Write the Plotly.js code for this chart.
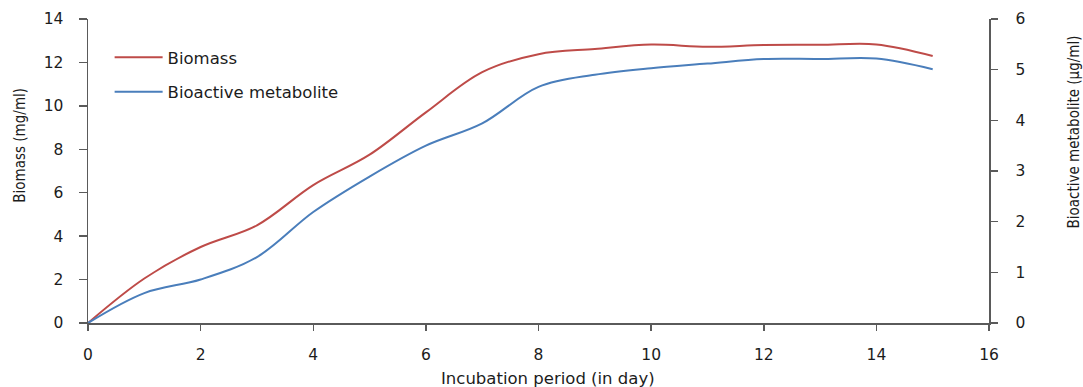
<!DOCTYPE html>
<html>
<head>
<meta charset="utf-8">
<script src="https://cdn.plot.ly/plotly-3.0.1.min.js"></script>
<style>
  html, body { margin: 0; padding: 0; background: #ffffff; }
  #chart { width: 1083px; height: 387px; }
</style>
</head>
<body>
<div id="chart"></div>
<script>
// Incubation period (days)
const days = [0, 1, 2, 3, 4, 5, 6, 7, 8, 9, 10, 11, 12, 13, 14, 15];
// Biomass (mg/ml) - left axis
const biomass = [0, 2.05, 3.5, 4.5, 6.35, 7.75, 9.7, 11.55, 12.38, 12.62, 12.82, 12.72, 12.8, 12.81, 12.83, 12.3];
// Bioactive metabolite (µg/ml) - right axis
const metabolite = [0, 0.59, 0.86, 1.3, 2.19, 2.89, 3.5, 3.94, 4.66, 4.9, 5.03, 5.12, 5.21, 5.21, 5.22, 5.01];

const seriesNames = ["Biomass", "Bioactive metabolite"];
const xTitle = "Incubation period (in day)";
const yTitle = "Biomass (mg/ml)";
const y2Title = "Bioactive metabolite (µg/ml)";

const axisColor = "#5a5a5a";
const textColor = "#1c1c1c";
const tickFont = { family: "DejaVu Sans", size: 15.5, color: textColor };

const traces = [
  {
    x: days, y: biomass, name: seriesNames[0], type: "scatter", mode: "lines",
    line: { color: "#be4b48", width: 2, shape: "spline", smoothing: 1 },
    yaxis: "y", legend: "legend"
  },
  {
    x: days, y: metabolite, name: seriesNames[1], type: "scatter", mode: "lines",
    line: { color: "#4a7ebb", width: 2, shape: "spline", smoothing: 1 },
    yaxis: "y2", legend: "legend2"
  }
];

const legendBase = {
  bgcolor: "rgba(0,0,0,0)", borderwidth: 0,
  font: { family: "DejaVu Sans", size: 16.5, color: textColor },
  xanchor: "left", yanchor: "middle", itemwidth: 48, tracegroupgap: 0
};

const layout = {
  width: 1083, height: 387,
  margin: { l: 88, r: 94, t: 19, b: 64, pad: 0 },
  paper_bgcolor: "#ffffff", plot_bgcolor: "#ffffff",
  showlegend: true,
  legend: Object.assign({}, legendBase, { x: 0.024, y: 0.873 }),
  legend2: Object.assign({}, legendBase, { x: 0.024, y: 0.760 }),
  xaxis: {
    range: [0, 16], dtick: 2, tick0: 0,
    showgrid: false, zeroline: false,
    showline: true, linecolor: axisColor, linewidth: 1.5,
    ticks: "outside", ticklen: 6, tickwidth: 1.5, tickcolor: axisColor,
    tickfont: tickFont, ticklabelstandoff: 11
  },
  yaxis: {
    range: [0, 14], dtick: 2, tick0: 0,
    showgrid: false, zeroline: false,
    showline: true, linecolor: axisColor, linewidth: 1.5,
    ticks: "outside", ticklen: 8, tickwidth: 1.5, tickcolor: axisColor,
    tickfont: tickFont, ticklabelstandoff: 12
  },
  yaxis2: {
    range: [0, 6], dtick: 1, tick0: 0,
    overlaying: "y", side: "right", anchor: "x",
    showgrid: false, zeroline: false,
    showline: true, linecolor: axisColor, linewidth: 1.5,
    ticks: "outside", ticklen: 7, tickwidth: 1.5, tickcolor: axisColor,
    tickfont: tickFont, ticklabelstandoff: 15
  },
  annotations: [
    {
      text: xTitle, xref: "paper", yref: "paper", x: 0.51, y: -0.182,
      xanchor: "center", yanchor: "middle", showarrow: false,
      font: { family: "DejaVu Sans", size: 16.5, color: textColor }
    },
    {
      text: yTitle, xref: "paper", yref: "paper", x: -0.0754, y: 0.5835,
      xanchor: "center", yanchor: "middle", showarrow: false, textangle: -90,
      font: { family: "DejaVu Sans Condensed", size: 15, color: textColor }
    },
    {
      text: y2Title, xref: "paper", yref: "paper", x: 1.0942, y: 0.6296,
      xanchor: "center", yanchor: "middle", showarrow: false, textangle: -90,
      font: { family: "DejaVu Sans Condensed", size: 15, color: textColor }
    }
  ]
};

Plotly.newPlot("chart", traces, layout, { displayModeBar: false, staticPlot: true });
</script>
</body>
</html>
